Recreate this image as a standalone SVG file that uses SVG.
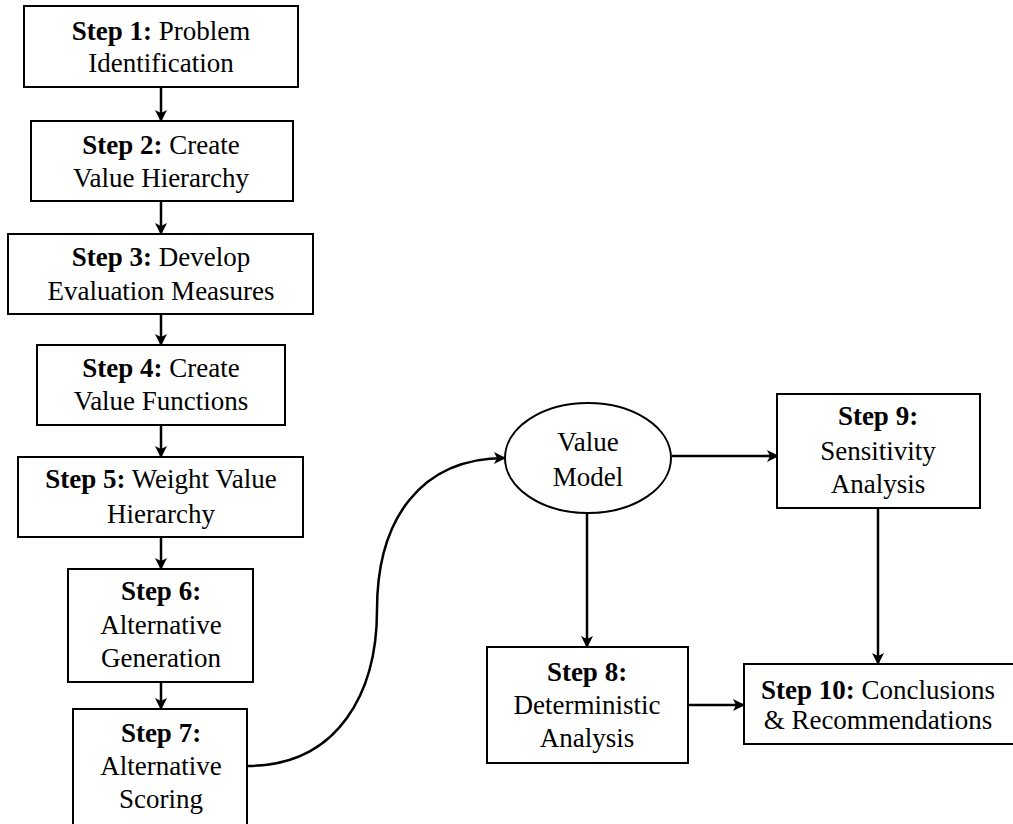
<svg xmlns="http://www.w3.org/2000/svg" width="1013" height="824" viewBox="0 0 1013 824">
<style>
.box{fill:#fff;stroke:#000;stroke-width:2}
.t{font-family:"Liberation Serif","Times New Roman",Times,serif;font-size:27px;fill:#000;text-anchor:middle}
.b{font-weight:bold}
.c{fill:none;stroke:#000;stroke-width:2.5}
</style>
<defs>
<marker id="ah" viewBox="0 0 12 12" refX="11" refY="6" markerWidth="12" markerHeight="12" markerUnits="userSpaceOnUse" orient="auto">
<path d="M0,0 L12,6 L0,12 L3,6 z" fill="#000"/>
</marker>
</defs>
<rect width="1013" height="824" fill="#fff"/>
<g id="connectors">
<line class="c" x1="161" y1="87" x2="161" y2="121" marker-end="url(#ah)"/>
<line class="c" x1="161" y1="201" x2="161" y2="234" marker-end="url(#ah)"/>
<line class="c" x1="161" y1="314" x2="161" y2="345" marker-end="url(#ah)"/>
<line class="c" x1="161" y1="425" x2="161" y2="457" marker-end="url(#ah)"/>
<line class="c" x1="161" y1="537" x2="161" y2="569" marker-end="url(#ah)"/>
<line class="c" x1="161" y1="682" x2="161" y2="709" marker-end="url(#ah)"/>
<path class="c" d="M247,766 C340,766 377,690 377,610 C377,520 420,458 505,458" marker-end="url(#ah)"/>
<line class="c" x1="672" y1="456" x2="778" y2="456" marker-end="url(#ah)"/>
<line class="c" x1="587" y1="513" x2="587" y2="647" marker-end="url(#ah)"/>
<line class="c" x1="878" y1="508" x2="878" y2="664" marker-end="url(#ah)"/>
<line class="c" x1="688" y1="705" x2="744" y2="705" marker-end="url(#ah)"/>
</g>
<g id="step1">
<rect class="box" x="24" y="6" width="274" height="81"/>
<text class="t" x="161" y="40"><tspan class="b">Step 1:</tspan>  Problem</text>
<text class="t" x="161" y="72">Identification</text>
</g>
<g id="step2">
<rect class="box" x="31" y="121" width="262" height="80"/>
<text class="t" x="161" y="154"><tspan class="b">Step 2:</tspan>  Create</text>
<text class="t" x="161" y="187">Value Hierarchy</text>
</g>
<g id="step3">
<rect class="box" x="8" y="234" width="305" height="80"/>
<text class="t" x="161" y="266"><tspan class="b">Step 3:</tspan>  Develop</text>
<text class="t" x="161" y="300">Evaluation Measures</text>
</g>
<g id="step4">
<rect class="box" x="37" y="345" width="248" height="80"/>
<text class="t" x="161" y="377"><tspan class="b">Step 4:</tspan>  Create</text>
<text class="t" x="161" y="410">Value Functions</text>
</g>
<g id="step5">
<rect class="box" x="18" y="457" width="285" height="80"/>
<text class="t" x="161" y="488"><tspan class="b">Step 5:</tspan>  Weight Value</text>
<text class="t" x="161" y="523">Hierarchy</text>
</g>
<g id="step6">
<rect class="box" x="68" y="569" width="185" height="113"/>
<text class="t b" x="161" y="600">Step 6:</text>
<text class="t" x="161" y="634">Alternative</text>
<text class="t" x="161" y="667">Generation</text>
</g>
<g id="step7">
<rect class="box" x="73" y="709" width="174" height="120"/>
<text class="t b" x="161" y="742">Step 7:</text>
<text class="t" x="161" y="775">Alternative</text>
<text class="t" x="161" y="808">Scoring</text>
</g>
<g id="value-model">
<ellipse class="box" cx="588" cy="458" rx="83" ry="55"/>
<text class="t" x="588" y="451">Value</text>
<text class="t" x="588" y="486">Model</text>
</g>
<g id="step8">
<rect class="box" x="487" y="647" width="201" height="116"/>
<text class="t b" x="587" y="681">Step 8:</text>
<text class="t" x="587" y="714">Deterministic</text>
<text class="t" x="587" y="747">Analysis</text>
</g>
<g id="step9">
<rect class="box" x="777" y="394" width="203" height="114"/>
<text class="t b" x="878" y="425">Step 9:</text>
<text class="t" x="878" y="460">Sensitivity</text>
<text class="t" x="878" y="493">Analysis</text>
</g>
<g id="step10">
<rect class="box" x="744" y="664" width="290" height="80"/>
<text class="t" x="878" y="699"><tspan class="b">Step 10:</tspan> Conclusions</text>
<text class="t" x="878" y="729">&amp; Recommendations</text>
</g>
</svg>
